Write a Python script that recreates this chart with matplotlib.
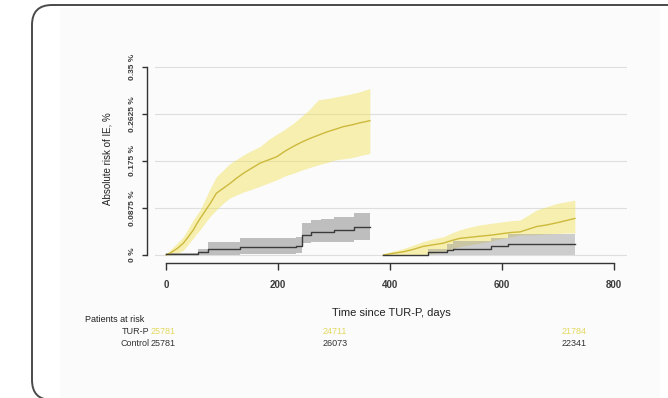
import matplotlib.pyplot as plt
import matplotlib.transforms as mtransforms
from matplotlib.patches import FancyBboxPatch, Rectangle

plt.rcParams['font.family'] = ['Liberation Sans', 'DejaVu Sans']

# --- period 1 (first year), TUR-P
tur1_days = [0, 8, 20, 31, 40, 49, 55, 61, 70, 79, 90, 102, 114, 126, 138, 152, 168,
             183, 198, 212, 227, 242, 257, 272, 287, 302, 317, 331, 346, 364]
tur1_risk = [0.000, 0.004, 0.012, 0.022, 0.034, 0.047, 0.058, 0.068, 0.082, 0.096, 0.115,
             0.124, 0.133, 0.143, 0.152, 0.161, 0.171, 0.177, 0.183, 0.193, 0.202, 0.210,
             0.217, 0.223, 0.229, 0.234, 0.239, 0.242, 0.246, 0.250]
tur1_hi = [0.001, 0.010, 0.022, 0.034, 0.050, 0.066, 0.075, 0.084, 0.104, 0.124, 0.146,
           0.158, 0.170, 0.178, 0.186, 0.194, 0.202, 0.215, 0.225, 0.234, 0.245, 0.258,
           0.272, 0.289, 0.291, 0.294, 0.297, 0.300, 0.304, 0.310]
tur1_lo = [0.000, 0.000, 0.003, 0.009, 0.020, 0.032, 0.040, 0.047, 0.060, 0.072, 0.084,
           0.096, 0.106, 0.112, 0.117, 0.122, 0.128, 0.134, 0.140, 0.147, 0.152, 0.158,
           0.163, 0.168, 0.172, 0.177, 0.179, 0.181, 0.185, 0.189]

# --- period 1, control
ctl1_days = [0, 57, 75, 132, 233, 242, 258, 276, 300, 336, 364]
ctl1_risk = [0.001, 0.005, 0.011, 0.014, 0.016, 0.037, 0.042, 0.043, 0.047, 0.052, 0.052]
ctl1_hi = [0.004, 0.011, 0.025, 0.031, 0.034, 0.059, 0.065, 0.067, 0.071, 0.078, 0.081]
ctl1_lo = [0.000, 0.000, 0.000, 0.002, 0.004, 0.022, 0.024, 0.024, 0.025, 0.027, 0.028]

# --- period 2 (second year), TUR-P
tur2_days = [388, 405, 424, 440, 459, 477, 495, 510, 525, 543, 561, 581, 602, 617, 632,
             662, 680, 698, 714, 730]
tur2_risk = [0.000, 0.003, 0.006, 0.010, 0.016, 0.019, 0.022, 0.027, 0.031, 0.033, 0.035,
             0.037, 0.040, 0.042, 0.043, 0.053, 0.056, 0.060, 0.064, 0.068]
tur2_hi = [0.002, 0.007, 0.012, 0.018, 0.025, 0.030, 0.034, 0.041, 0.047, 0.052, 0.056,
           0.059, 0.062, 0.064, 0.065, 0.084, 0.090, 0.096, 0.099, 0.102]
tur2_lo = [0.000, 0.000, 0.000, 0.000, 0.001, 0.003, 0.006, 0.011, 0.016, 0.019, 0.022,
           0.026, 0.031, 0.034, 0.037, 0.038, 0.039, 0.040, 0.041, 0.041]

# --- period 2, control
ctl2_days = [388, 468, 501, 513, 581, 611, 730]
ctl2_risk = [0.000, 0.005, 0.009, 0.012, 0.016, 0.020, 0.020]
ctl2_hi = [0.000, 0.012, 0.020, 0.026, 0.031, 0.040, 0.041]
ctl2_lo = [0.000, 0.000, 0.000, 0.000, 0.000, 0.000, 0.000]

x_ticks = [0, 200, 400, 600, 800]
y_ticks = [0, 0.0875, 0.175, 0.2625, 0.35]
y_ticklabels = ['0 %', '0.0875 %', '0.175 %', '0.2625 %', '0.35 %']

risk_groups = ['TUR-P', 'Control']
risk_tur = ['25781', '24711', '21784']
risk_ctl = ['25781', '26073', '22341']

yel_fill = '#f0e155'
yel_line = '#cdb93c'
grey_fill = '#969696'
grey_line = '#3a3a3a'

fig = plt.figure(figsize=(6.68, 3.98), dpi=100)
px = mtransforms.IdentityTransform()

# pale panel + rounded frame
fig.add_artist(Rectangle((60, 0), 600, 390, transform=px, facecolor='#fbfbfb',
                         edgecolor='none', zorder=0))
fig.add_artist(FancyBboxPatch((32, -2), 700, 395, boxstyle='round,pad=0,rounding_size=20',
                              transform=px, facecolor='none', edgecolor='#4a4a4a',
                              lw=1.4, zorder=1))

ax = fig.add_axes([155 / 668, 140 / 398, 472 / 668, 198 / 398])
ax.set_facecolor('none')

# TUR-P curves have many tiny steps -> drawn as lines; control as steps
for d, r, hi, lo in [(tur1_days, tur1_risk, tur1_hi, tur1_lo),
                     (tur2_days, tur2_risk, tur2_hi, tur2_lo)]:
    ax.fill_between(d, lo, hi, color=yel_fill, alpha=0.45, lw=0, zorder=2)
    ax.plot(d, r, color=yel_line, lw=1.0, zorder=3)

for d, r, hi, lo, a in [(ctl1_days, ctl1_risk, ctl1_hi, ctl1_lo, 0.6),
                        (ctl2_days, ctl2_risk, ctl2_hi, ctl2_lo, 0.45)]:
    ax.fill_between(d, lo, hi, step='post', color=grey_fill, alpha=a, lw=0, zorder=2)
    ax.step(d, r, where='post', color=grey_line, lw=1.0, zorder=3)

ax.set_xlim(-19.6, 823)
ax.set_ylim(-0.0056, 0.363)

# spines first: moving them resets the tick labels
for s in ['top', 'right']:
    ax.spines[s].set_visible(False)
ax.spines['left'].set_position(('outward', 5.8))
ax.spines['bottom'].set_position(('outward', 3.6))
ax.spines['left'].set_bounds(0, 0.35)
ax.spines['bottom'].set_bounds(0, 800)
for s in ['left', 'bottom']:
    ax.spines[s].set_color('#333333')
    ax.spines[s].set_linewidth(1.0)

ax.tick_params(axis='x', length=5, width=1, color='#333333', pad=7)
ax.tick_params(axis='y', length=3.6, width=1, color='#333333', pad=4)

ax.set_xticks(x_ticks)
ax.set_xticklabels([str(t) for t in x_ticks], fontsize=7, fontweight='bold',
                   color='#3a3a3a')
ax.set_yticks(y_ticks)
ax.set_yticklabels(y_ticklabels, fontsize=6, fontweight='bold', color='#3a3a3a',
                   rotation=90, va='center')

ax.yaxis.grid(True, color='#dedede', lw=0.8)
ax.set_axisbelow(True)

ax.set_xlabel('Time since TUR-P, days', fontsize=8, color='#222222', labelpad=13)
ax.set_ylabel('Absolute risk of IE, %', fontsize=7, color='#222222', labelpad=12)

# patients at risk table
tr = mtransforms.blended_transform_factory(ax.transData, fig.transFigure)
col_days = [-4.5, 302, 729]
fig.text(85 / 668, 1 - 319 / 398, 'Patients at risk', fontsize=6.5, color='#222222',
         va='center', ha='left')
for row, (name, vals, col) in enumerate(zip(risk_groups, [risk_tur, risk_ctl],
                                             ['#e3d95e', '#333333'])):
    y = 1 - (331 + 12 * row) / 398
    ax.text(-30, y, name, transform=tr, fontsize=6.5, color='#333333', ha='right',
            va='center', clip_on=False)
    for cx, v in zip(col_days, vals):
        ax.text(cx, y, v, transform=tr, fontsize=6.5, color=col, ha='center',
                va='center', clip_on=False)

fig.savefig('out.png', dpi=100)
